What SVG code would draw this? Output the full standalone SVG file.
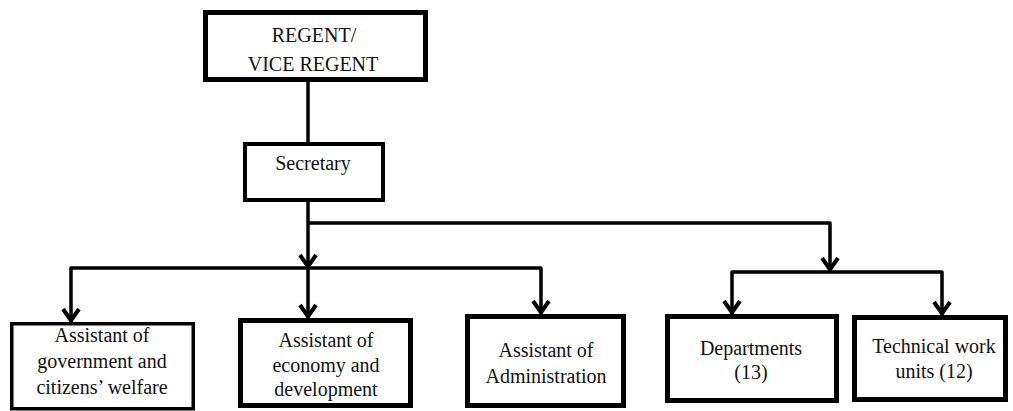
<svg xmlns="http://www.w3.org/2000/svg" width="1013" height="411" viewBox="0 0 1013 411">
  <style>
    .box { fill: #ffffff; stroke: #000000; stroke-width: 5; }
    .thin { stroke-width: 3.5; }
    .lbl { font-family: "Liberation Serif", "Times New Roman", serif; font-size: 20px; fill: #111111; text-anchor: middle; }
    .wire { fill: none; stroke: #000000; stroke-width: 3.5; stroke-linejoin: round; }
  </style>
  <defs>
    <!-- open V arrowhead; x axis follows the line direction, tip at origin -->
    <marker id="arrow" viewBox="-15 -11 17 22" refX="0" refY="0" markerWidth="17" markerHeight="22" markerUnits="userSpaceOnUse" orient="auto">
      <path d="M -13 -8 L -1.5 0 L -13 8" fill="none" stroke="#000000" stroke-width="4" stroke-linejoin="miter"/>
    </marker>
  </defs>
  <rect width="1013" height="411" fill="#ffffff"/>

  <!-- connectors -->
  <g id="connectors">
    <line class="wire" x1="308" y1="82" x2="308" y2="142"/>
    <polyline class="wire" points="308,202 308,268" marker-end="url(#arrow)"/>
    <polyline class="wire" points="308,223 830,223 830,271" marker-end="url(#arrow)"/>
    <polyline class="wire" points="308,268 71,268 71,322" marker-end="url(#arrow)"/>
    <polyline class="wire" points="308,268 308,318" marker-end="url(#arrow)"/>
    <polyline class="wire" points="308,268 541,268 541,314" marker-end="url(#arrow)"/>
    <polyline class="wire" points="830,272 732,272 732,314" marker-end="url(#arrow)"/>
    <polyline class="wire" points="830,272 942,272 942,315" marker-end="url(#arrow)"/>
  </g>

  <g id="regent">
    <rect class="box" x="205.5" y="12.5" width="220" height="67"/>
    <text class="lbl" x="314" y="42">REGENT/</text>
    <text class="lbl" x="313" y="71">VICE REGENT</text>
  </g>

  <g id="secretary">
    <rect class="box" x="245" y="144" width="138" height="56" style="stroke-width:4"/>
    <text class="lbl" x="313" y="170">Secretary</text>
  </g>

  <g id="assistant-government">
    <rect class="box thin" x="11.75" y="323.75" width="181.5" height="85"/>
    <text class="lbl" x="102" y="342">Assistant of</text>
    <text class="lbl" x="102" y="368">government and</text>
    <text class="lbl" x="102" y="394">citizens’ welfare</text>
  </g>

  <g id="assistant-economy">
    <rect class="box" x="240.5" y="320.5" width="170" height="85"/>
    <text class="lbl" x="326" y="347">Assistant of</text>
    <text class="lbl" x="326" y="372">economy and</text>
    <text class="lbl" x="326" y="396">development</text>
  </g>

  <g id="assistant-administration">
    <rect class="box" x="467.5" y="316.5" width="156" height="89"/>
    <text class="lbl" x="546" y="357">Assistant of</text>
    <text class="lbl" x="546" y="383">Administration</text>
  </g>

  <g id="departments">
    <rect class="box" x="667.5" y="316.5" width="169" height="84"/>
    <text class="lbl" x="751" y="355">Departments</text>
    <text class="lbl" x="751" y="379">(13)</text>
  </g>

  <g id="technical-units">
    <rect class="box" x="854.5" y="317.5" width="151" height="82"/>
    <text class="lbl" x="934" y="353">Technical work</text>
    <text class="lbl" x="934" y="378">units (12)</text>
  </g>
</svg>
